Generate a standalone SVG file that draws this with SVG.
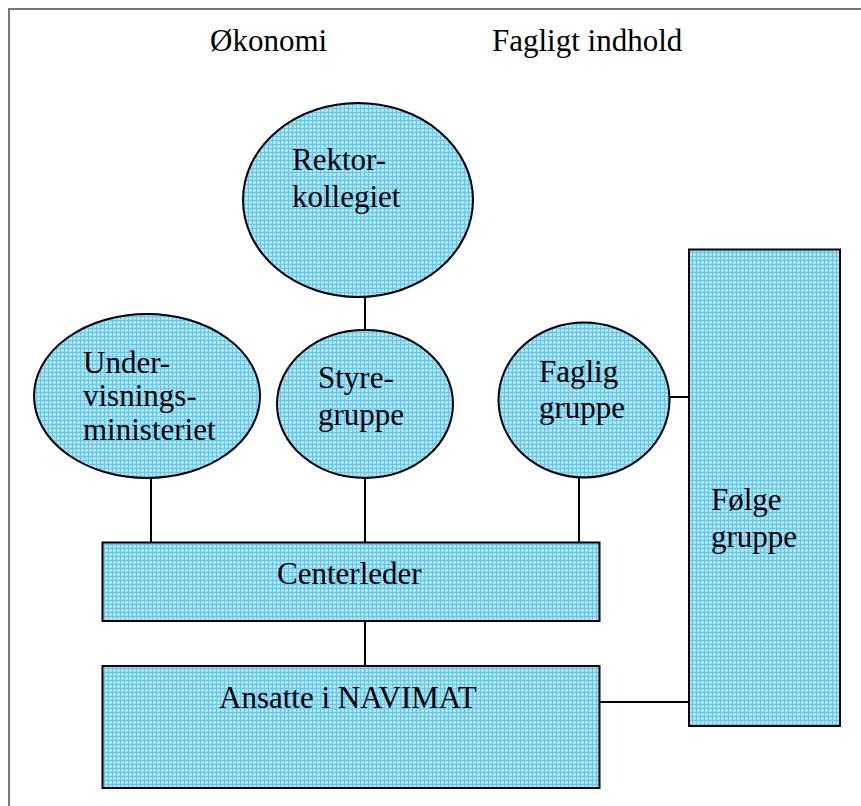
<svg xmlns="http://www.w3.org/2000/svg" width="861" height="806" viewBox="0 0 861 806">
<defs>
<pattern id="grid" width="4" height="4" patternUnits="userSpaceOnUse">
<rect width="4" height="4" fill="#a4dff7"/>
<rect width="4" height="1" fill="#62caf1"/>
<rect width="1" height="4" fill="#62caf1"/>
<rect x="2" y="2" width="1" height="1" fill="#e6f7fd"/>
</pattern>
<style>
.shape{fill:url(#grid);stroke:#000;stroke-width:2}
.conn line{stroke:#000;stroke-width:2}
text{font-family:'Liberation Serif','Times New Roman',Times,'DejaVu Serif',serif;font-size:31px;fill:#000}
</style>
</defs>
<rect width="861" height="806" fill="#fff"/>
<rect x="9" y="9" width="900" height="900" fill="none" stroke="#777" stroke-width="2"/>
<text x="210" y="51" font-family="Liberation Serif, serif">Økonomi</text>
<text x="492" y="51">Fagligt indhold</text>
<g class="conn" id="connectors">
<line x1="365" y1="297" x2="365" y2="331"/>
<line x1="151" y1="477" x2="151" y2="543"/>
<line x1="365" y1="477" x2="365" y2="543"/>
<line x1="579" y1="477" x2="579" y2="543"/>
<line x1="365" y1="621" x2="365" y2="666"/>
<line x1="669" y1="397" x2="689" y2="397"/>
<line x1="599" y1="702" x2="689" y2="702"/>
</g>
<g id="rektorkollegiet">
<ellipse class="shape" cx="358" cy="200" rx="115" ry="97"/>
<text x="292" y="170">Rektor-</text>
<text x="292" y="207">kollegiet</text>
</g>
<g id="undervisningsministeriet">
<ellipse class="shape" cx="147" cy="396" rx="113" ry="82"/>
<text x="83" y="373">Under-</text>
<text x="83" y="406">visnings-</text>
<text x="83" y="440">ministeriet</text>
</g>
<g id="styregruppe">
<ellipse class="shape" cx="365" cy="404" rx="88" ry="74"/>
<text x="318" y="388">Styre-</text>
<text x="318" y="425">gruppe</text>
</g>
<g id="fagliggruppe">
<ellipse class="shape" cx="584" cy="400" rx="85.5" ry="77.5"/>
<text x="539" y="382">Faglig</text>
<text x="539" y="418">gruppe</text>
</g>
<g id="centerleder">
<rect class="shape" x="102.5" y="542.5" width="497" height="78.5"/>
<text x="277" y="584">Centerleder</text>
</g>
<g id="ansatte">
<rect class="shape" x="102.5" y="666" width="497" height="122"/>
<text x="219" y="708">Ansatte i NAVIMAT</text>
</g>
<g id="folgegruppe">
<rect class="shape" x="689" y="249.5" width="151" height="476.5"/>
<text x="711" y="510">Følge</text>
<text x="711" y="547">gruppe</text>
</g>
</svg>
